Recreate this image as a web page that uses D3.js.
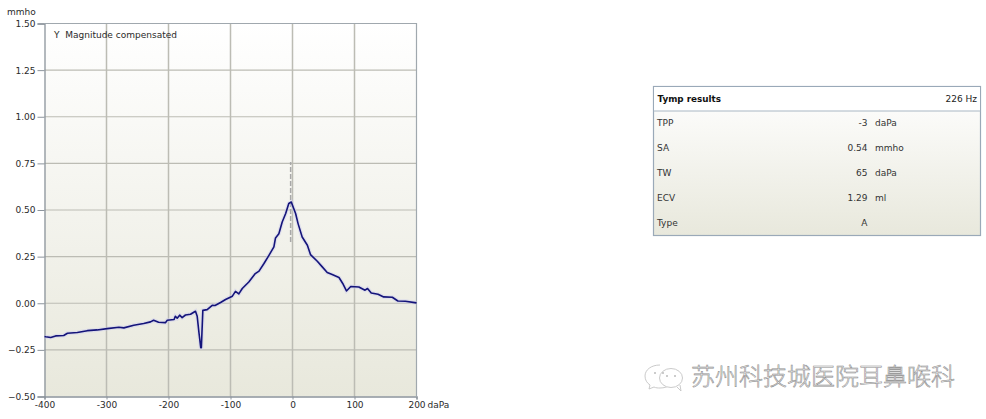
<!DOCTYPE html>
<html><head><meta charset="utf-8">
<script src="https://cdn.jsdelivr.net/npm/d3@7/dist/d3.min.js"></script>
<style>html,body{margin:0;background:#fff;overflow:hidden}svg{display:block}text{font-family:"DejaVu Sans",sans-serif}</style>
</head><body><svg id="c" width="986" height="419"></svg>
<script>
const xTicks=[-400,-300,-200,-100,0,100,200];
const yTicks=[-0.5,-0.25,0,0.25,0.5,0.75,1,1.25,1.5];
const pressure=[-400,-398,-390,-382,-369,-363,-347,-331,-315,-299,-280,-272,-256,-240,-229,-224,-216,-205,-202,-191,-189,-186,-182,-178,-172.6,-164.5,-156.5,-153.7,-151,-148,-147,-144.6,-137.6,-129.5,-125,-116,-108,-97,-92,-86.6,-81,-70.5,-60,-54,-46,-38,-30,-27.4,-22,-16.6,-11,-6,-2,5,9,15.6,24,29,40,48,56,64,75,81,87,94,107,117,121,127,138,147,161,170,182,200];
const admittance=[-0.178,-0.18,-0.184,-0.175,-0.173,-0.161,-0.157,-0.147,-0.143,-0.136,-0.129,-0.132,-0.118,-0.109,-0.1,-0.091,-0.102,-0.104,-0.091,-0.087,-0.07,-0.08,-0.064,-0.077,-0.063,-0.059,-0.043,-0.07,-0.154,-0.238,-0.238,-0.038,-0.034,-0.011,-0.012,0.004,0.02,0.038,0.064,0.05,0.079,0.114,0.159,0.172,0.213,0.257,0.302,0.35,0.373,0.436,0.481,0.535,0.543,0.481,0.427,0.355,0.311,0.261,0.225,0.195,0.165,0.154,0.138,0.106,0.066,0.09,0.087,0.07,0.079,0.055,0.048,0.034,0.032,0.012,0.011,0.002];
const markerX=[-3,-3];
const markerY=[0.329,0.757];
const chartLabel="Y  Magnitude compensated";
const rowNames=["TPP","SA","TW","ECV","Type"];
const rowValues=["-3","0.54","65","1.29","A"];
const rowUnits=["daPa","mmho","daPa","ml",""];
const watermark="苏州科技城医院耳鼻喉科";

const svg=d3.select("#c");
const defs=svg.append("defs");
const g1=defs.append("linearGradient").attr("id","bg").attr("x1",0).attr("y1",0).attr("x2",0).attr("y2",1);
g1.append("stop").attr("offset",0).attr("stop-color","#ffffff");
g1.append("stop").attr("offset",0.35).attr("stop-color","#f7f7f3");
g1.append("stop").attr("offset",1).attr("stop-color","#e8e8dc");

const L=44.5,R=416.5,T=23.5,B=396.5;
const x=d3.scaleLinear().domain([-400,200]).range([L,R]);
const y=d3.scaleLinear().domain([-0.5,1.5]).range([B,T]);

svg.append("rect").attr("x",L).attr("y",T).attr("width",R-L).attr("height",B-T).attr("fill","url(#bg)");

const grid=svg.append("g").attr("stroke","#bcbcb4");
grid.selectAll("line.v").data(xTicks.slice(1,-1)).join("line").attr("class","v").attr("stroke-width",1.5)
  .attr("x1",d=>x(d)).attr("x2",d=>x(d)).attr("y1",T).attr("y2",B);
grid.selectAll("line.h").data(yTicks.slice(1,-1)).join("line").attr("class","h").attr("stroke-width",1.1)
  .attr("x1",L).attr("x2",R).attr("y1",d=>y(d)).attr("y2",d=>y(d));

const axY=svg.append("g").attr("transform",`translate(${L},0)`)
  .call(d3.axisLeft(y).tickValues(yTicks).tickFormat(d3.format(".2f")).tickSize(7).tickPadding(2));
const axX=svg.append("g").attr("transform",`translate(0,${B})`)
  .call(d3.axisBottom(x).tickValues(xTicks).tickFormat(d=>d).tickSize(3).tickPadding(2));
[axY,axX].forEach(a=>{
  a.selectAll("text").attr("font-size",9).attr("fill","#2a2a2a").attr("font-family",'"DejaVu Sans"');
  a.selectAll("line").attr("stroke","#8c949c");
  a.select(".domain").attr("stroke","#8c949c").attr("stroke-width",1.3);
});
svg.append("path").attr("d",`M${L},${T}H${R}V${B}`).attr("fill","none").attr("stroke","#a0a8ae").attr("stroke-width",1.2);

svg.append("text").attr("x",7).attr("y",15).attr("font-size",9).attr("fill","#2a2a2a").text("mmho");
svg.append("text").attr("x",427.5).attr("y",408).attr("font-size",9).attr("fill","#2a2a2a").text("daPa");
svg.append("text").attr("x",54).attr("y",38).attr("font-size",9).attr("fill","#2a2a2a").attr("xml:space","preserve").text(chartLabel);

svg.append("line").attr("x1",x(markerX[0])).attr("x2",x(markerX[1])).attr("y1",y(markerY[0])).attr("y2",y(markerY[1]))
  .attr("stroke","#a8a8a8").attr("stroke-width",1.5).attr("stroke-dasharray","5 2");

const line=d3.line().x(d=>x(d[0])).y(d=>y(d[1]));
const pts=pressure.map((p,i)=>[p,admittance[i]]);
svg.append("path").attr("d",line(pts)).attr("fill","none").attr("stroke","#c9c9ee").attr("stroke-width",4).attr("stroke-opacity",0.45);
svg.append("path").attr("d",line(pts)).attr("fill","none").attr("stroke","#14147a").attr("stroke-width",1.6).attr("stroke-linejoin","round");

// results panel
const px=653.5,pw=327,py=86.5,ph=149,hh=24;
const panel=svg.append("g");
panel.append("rect").attr("x",px).attr("y",py).attr("width",pw).attr("height",ph).attr("fill","url(#bg)").attr("stroke","#9aa9b8").attr("stroke-width",1.2);
panel.append("rect").attr("x",px+0.6).attr("y",py+0.6).attr("width",pw-1.2).attr("height",hh).attr("fill","#fff");
panel.append("line").attr("x1",px).attr("x2",px+pw).attr("y1",py+hh+0.5).attr("y2",py+hh+0.5).attr("stroke","#a9b7c4").attr("stroke-width",1.2);
panel.append("text").attr("x",657.5).attr("y",102).attr("font-size",8.8).attr("font-weight","bold").attr("fill","#111").text("Tymp results");
panel.append("text").attr("x",977).attr("y",102).attr("text-anchor","end").attr("font-size",9).attr("fill","#222").text("226 Hz");
const rowY=d3.scalePoint().domain(rowNames).range([126,226]);
const rows=panel.selectAll("g.row").data(rowNames).join("g").attr("class","row");
rows.append("text").attr("x",657).attr("y",d=>rowY(d)).attr("font-size",9).attr("fill","#333").text(d=>d);
rows.append("text").attr("x",867.5).attr("y",d=>rowY(d)).attr("text-anchor","end").attr("font-size",9).attr("fill","#333").text((d,i)=>rowValues[i]);
rows.append("text").attr("x",875).attr("y",d=>rowY(d)).attr("font-size",9).attr("fill","#333").text((d,i)=>rowUnits[i]);

// watermark
const wm=svg.append("g");
const bub=wm.append("g").attr("fill","#fff").attr("stroke","#c4c4c4").attr("stroke-width",0.9);
bub.append("path").attr("d","M660,365 C651,365 645,370 645,376 C645,380 647,383 650,385 L649,389 L654,387 C656,388 658,388 660,388 C664,388 668,387 671,384");
bub.append("ellipse").attr("cx",671).attr("cy",378).attr("rx",11.5).attr("ry",9.5);
bub.append("path").attr("d","M677,387 L681,391 L680,385");
wm.selectAll("circle").data([[655,373],[663,373],[667,376],[675,376]]).join("circle").attr("cx",d=>d[0]).attr("cy",d=>d[1]).attr("r",1).attr("fill","#bbb");
wm.append("text").attr("x",691).attr("y",385).attr("font-size",24).attr("textLength",264).attr("lengthAdjust","spacing")
  .style("font-family",'"Noto Sans CJK SC"').style("font-weight",300).attr("fill","#fafafa").attr("stroke","#8a8a8a").attr("stroke-width",0.55).text(watermark);
</script></body></html>
